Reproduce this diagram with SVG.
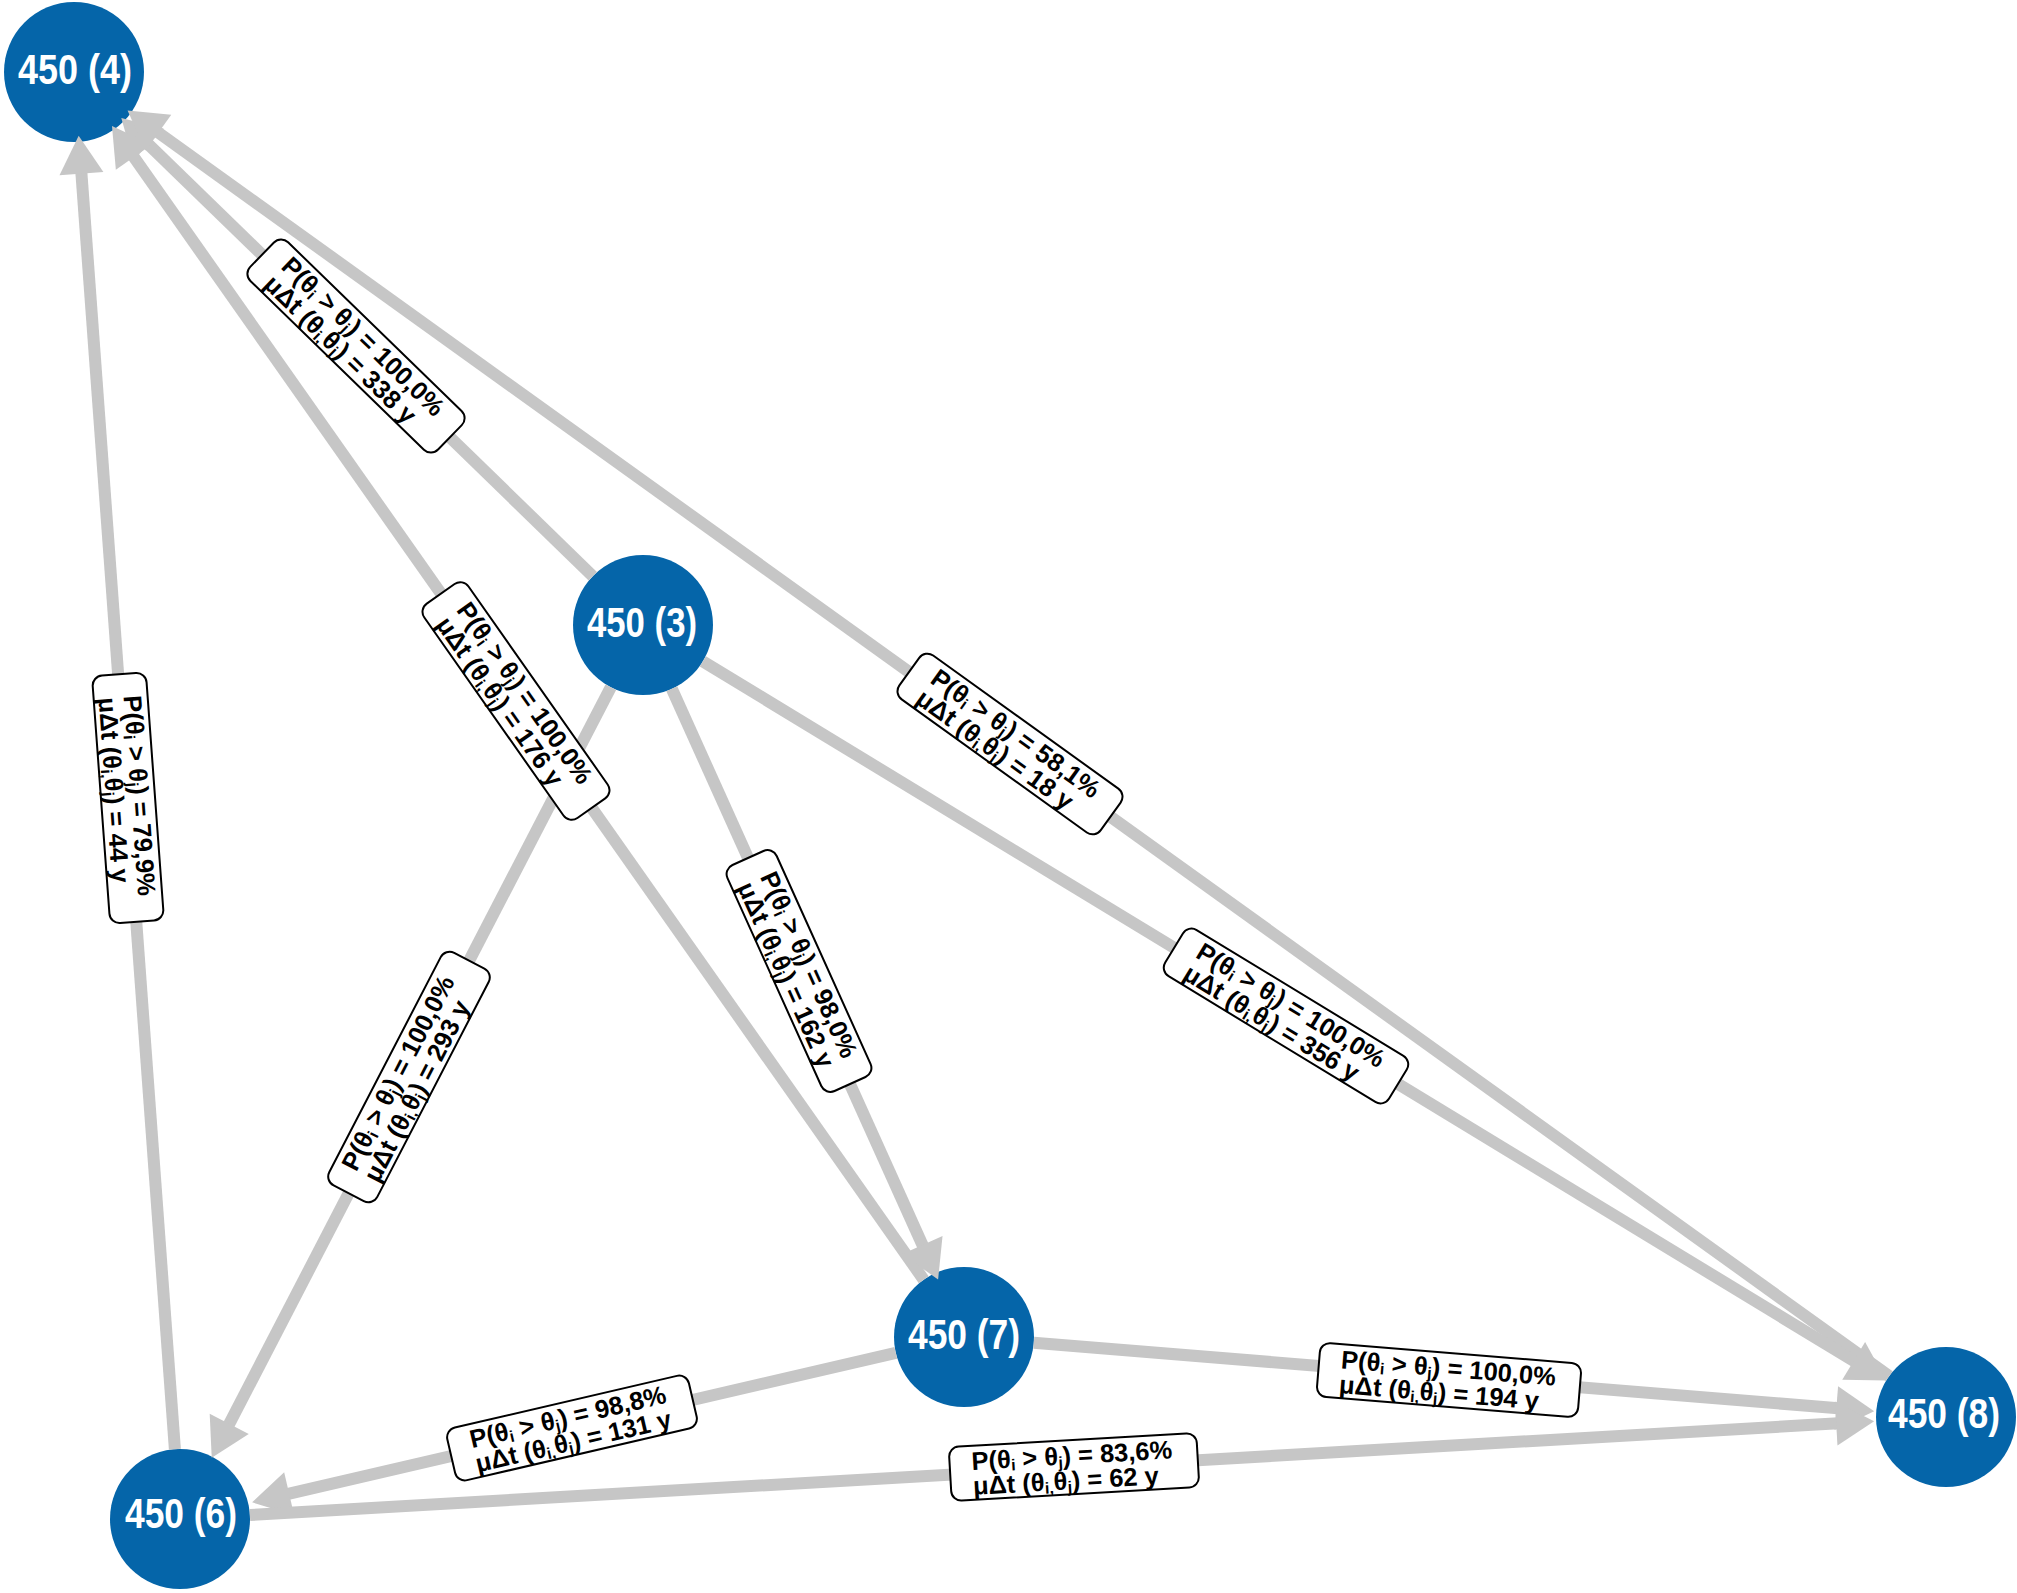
<svg xmlns="http://www.w3.org/2000/svg" width="2017" height="1593" viewBox="0 0 2017 1593">
<style>
.node{fill:#0565A9;}
.nt{fill:#ffffff;font-family:"Liberation Sans Narrow","Liberation Sans",Arial,sans-serif;font-weight:bold;font-size:42px;text-anchor:middle;}
.edge{stroke:#C6C6C6;stroke-width:12;fill:none;marker-end:url(#ah);}
.box{fill:#ffffff;stroke:#000000;stroke-width:2;}
.lt{fill:#000000;font-family:"Liberation Sans",Arial,sans-serif;font-weight:bold;font-size:25.5px;}
.sb{font-size:16px;}
</style>
<defs>
<marker id="ah" markerUnits="userSpaceOnUse" markerWidth="40" markerHeight="46" viewBox="0 -23 40 46" refX="2" refY="0" orient="auto" overflow="visible">
<path d="M0,-22 L38,0 L0,22 Z" fill="#C6C6C6"/>
</marker>
</defs>
<rect width="2017" height="1593" fill="#ffffff"/>
<g id="nodes">
<g id="n4"><circle class="node" cx="74" cy="72" r="70"/><text class="nt" x="75" y="84" textLength="114" lengthAdjust="spacingAndGlyphs">450 (4)</text></g>
<g id="n3"><circle class="node" cx="643" cy="625" r="70"/><text class="nt" x="642" y="637" textLength="110" lengthAdjust="spacingAndGlyphs">450 (3)</text></g>
<g id="n7"><circle class="node" cx="964" cy="1337" r="70"/><text class="nt" x="964" y="1349" textLength="112" lengthAdjust="spacingAndGlyphs">450 (7)</text></g>
<g id="n8"><circle class="node" cx="1946" cy="1417" r="70"/><text class="nt" x="1944" y="1428" textLength="112" lengthAdjust="spacingAndGlyphs">450 (8)</text></g>
<g id="n6"><circle class="node" cx="180" cy="1519" r="70"/><text class="nt" x="181" y="1528" textLength="112" lengthAdjust="spacingAndGlyphs">450 (6)</text></g>
</g>
<g id="connectors">
<line id="e6-4" class="edge" x1="174.9" y1="1449.2" x2="81.3" y2="171.7"/>
<line id="e3-4" class="edge" x1="592.8" y1="576.2" x2="147.1" y2="143.1"/>
<line id="e7-4" class="edge" x1="923.7" y1="1279.7" x2="132.7" y2="155.4"/>
<line id="e8-4" class="edge" x1="1889.2" y1="1376.2" x2="156.8" y2="131.5"/>
<line id="e3-6" class="edge" x1="610.8" y1="687.2" x2="228.3" y2="1425.7"/>
<line id="e3-7" class="edge" x1="671.8" y1="688.8" x2="923.3" y2="1246.8"/>
<line id="e3-8" class="edge" x1="702.8" y1="661.4" x2="1855.4" y2="1361.9"/>
<line id="e7-8" class="edge" x1="1033.8" y1="1342.7" x2="1838.3" y2="1408.3"/>
<line id="e7-6" class="edge" x1="895.8" y1="1352.8" x2="287.2" y2="1494.2"/>
<line id="e6-8" class="edge" x1="249.9" y1="1515.0" x2="1838.2" y2="1423.3"/>
</g>
<g id="edge-labels">
<g id="l6-4" transform="translate(128,798) rotate(85.8)"><rect class="box" x="-124" y="-27" width="248" height="54" rx="10"/>
<text class="lt" x="-102" y="-3">P(θ<tspan class="sb" dy="3">i</tspan><tspan dy="-3"> &gt; θ</tspan><tspan class="sb" dy="3">j</tspan><tspan dy="-3">) = 79,9%</tspan></text>
<text class="lt" x="-102" y="22">μΔt (θ<tspan class="sb" dy="3">i,</tspan><tspan dy="-3">θ</tspan><tspan class="sb" dy="3">j</tspan><tspan dy="-3">) = 44 y</tspan></text></g>
<g id="l3-4" transform="translate(356,346) rotate(44.2)"><rect class="box" x="-131" y="-27" width="262" height="54" rx="10"/>
<text class="lt" x="-109" y="-3">P(θ<tspan class="sb" dy="3">i</tspan><tspan dy="-3"> &gt; θ</tspan><tspan class="sb" dy="3">j</tspan><tspan dy="-3">) = 100,0%</tspan></text>
<text class="lt" x="-109" y="22">μΔt (θ<tspan class="sb" dy="3">i,</tspan><tspan dy="-3">θ</tspan><tspan class="sb" dy="3">j</tspan><tspan dy="-3">) = 338 y</tspan></text></g>
<g id="l7-4" transform="translate(516,701) rotate(54.9)"><rect class="box" x="-131" y="-27" width="262" height="54" rx="10"/>
<text class="lt" x="-109" y="-3">P(θ<tspan class="sb" dy="3">i</tspan><tspan dy="-3"> &gt; θ</tspan><tspan class="sb" dy="3">j</tspan><tspan dy="-3">) = 100,0%</tspan></text>
<text class="lt" x="-109" y="22">μΔt (θ<tspan class="sb" dy="3">i,</tspan><tspan dy="-3">θ</tspan><tspan class="sb" dy="3">j</tspan><tspan dy="-3">) = 176 y</tspan></text></g>
<g id="l8-4" transform="translate(1010,744) rotate(35.7)"><rect class="box" x="-124" y="-27" width="248" height="54" rx="10"/>
<text class="lt" x="-102" y="-3">P(θ<tspan class="sb" dy="3">i</tspan><tspan dy="-3"> &gt; θ</tspan><tspan class="sb" dy="3">j</tspan><tspan dy="-3">) = 58,1%</tspan></text>
<text class="lt" x="-102" y="22">μΔt (θ<tspan class="sb" dy="3">i,</tspan><tspan dy="-3">θ</tspan><tspan class="sb" dy="3">j</tspan><tspan dy="-3">) = 18 y</tspan></text></g>
<g id="l3-6" transform="translate(409,1077) rotate(-62.6)"><rect class="box" x="-131" y="-27" width="262" height="54" rx="10"/>
<text class="lt" x="-109" y="-3">P(θ<tspan class="sb" dy="3">i</tspan><tspan dy="-3"> &gt; θ</tspan><tspan class="sb" dy="3">j</tspan><tspan dy="-3">) = 100,0%</tspan></text>
<text class="lt" x="-109" y="22">μΔt (θ<tspan class="sb" dy="3">i,</tspan><tspan dy="-3">θ</tspan><tspan class="sb" dy="3">j</tspan><tspan dy="-3">) = 293 y</tspan></text></g>
<g id="l3-7" transform="translate(799,971) rotate(65.7)"><rect class="box" x="-124" y="-27" width="248" height="54" rx="10"/>
<text class="lt" x="-102" y="-3">P(θ<tspan class="sb" dy="3">i</tspan><tspan dy="-3"> &gt; θ</tspan><tspan class="sb" dy="3">j</tspan><tspan dy="-3">) = 98,0%</tspan></text>
<text class="lt" x="-102" y="22">μΔt (θ<tspan class="sb" dy="3">i,</tspan><tspan dy="-3">θ</tspan><tspan class="sb" dy="3">j</tspan><tspan dy="-3">) = 162 y</tspan></text></g>
<g id="l3-8" transform="translate(1286,1016) rotate(31.3)"><rect class="box" x="-131" y="-27" width="262" height="54" rx="10"/>
<text class="lt" x="-109" y="-3">P(θ<tspan class="sb" dy="3">i</tspan><tspan dy="-3"> &gt; θ</tspan><tspan class="sb" dy="3">j</tspan><tspan dy="-3">) = 100,0%</tspan></text>
<text class="lt" x="-109" y="22">μΔt (θ<tspan class="sb" dy="3">i,</tspan><tspan dy="-3">θ</tspan><tspan class="sb" dy="3">j</tspan><tspan dy="-3">) = 356 y</tspan></text></g>
<g id="l7-8" transform="translate(1449,1380) rotate(4.66)"><rect class="box" x="-131" y="-27" width="262" height="54" rx="10"/>
<text class="lt" x="-109" y="-3">P(θ<tspan class="sb" dy="3">i</tspan><tspan dy="-3"> &gt; θ</tspan><tspan class="sb" dy="3">j</tspan><tspan dy="-3">) = 100,0%</tspan></text>
<text class="lt" x="-109" y="22">μΔt (θ<tspan class="sb" dy="3">i,</tspan><tspan dy="-3">θ</tspan><tspan class="sb" dy="3">j</tspan><tspan dy="-3">) = 194 y</tspan></text></g>
<g id="l7-6" transform="translate(572,1428) rotate(-13.1)"><rect class="box" x="-124" y="-27" width="248" height="54" rx="10"/>
<text class="lt" x="-102" y="-3">P(θ<tspan class="sb" dy="3">i</tspan><tspan dy="-3"> &gt; θ</tspan><tspan class="sb" dy="3">j</tspan><tspan dy="-3">) = 98,8%</tspan></text>
<text class="lt" x="-102" y="22">μΔt (θ<tspan class="sb" dy="3">i,</tspan><tspan dy="-3">θ</tspan><tspan class="sb" dy="3">j</tspan><tspan dy="-3">) = 131 y</tspan></text></g>
<g id="l6-8" transform="translate(1074,1467) rotate(-3.3)"><rect class="box" x="-124" y="-27" width="248" height="54" rx="10"/>
<text class="lt" x="-102" y="-3">P(θ<tspan class="sb" dy="3">i</tspan><tspan dy="-3"> &gt; θ</tspan><tspan class="sb" dy="3">j</tspan><tspan dy="-3">) = 83,6%</tspan></text>
<text class="lt" x="-102" y="22">μΔt (θ<tspan class="sb" dy="3">i,</tspan><tspan dy="-3">θ</tspan><tspan class="sb" dy="3">j</tspan><tspan dy="-3">) = 62 y</tspan></text></g>
</g>
</svg>
